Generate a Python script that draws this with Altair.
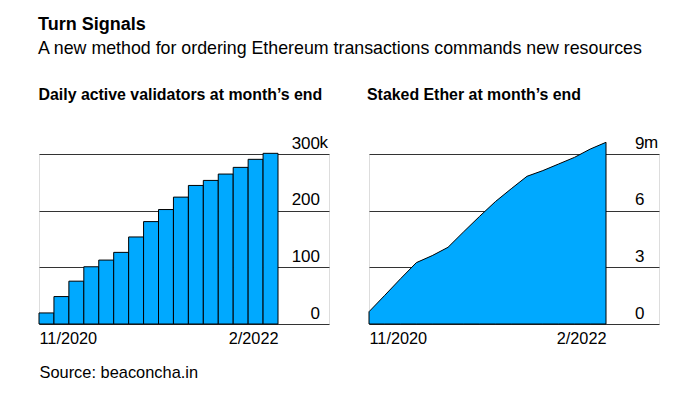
import altair as alt
import pandas as pd

# ---- data ----
months = ["2020-11", "2020-12", "2021-01", "2021-02", "2021-03", "2021-04",
          "2021-05", "2021-06", "2021-07", "2021-08", "2021-09", "2021-10",
          "2021-11", "2021-12", "2022-01", "2022-02"]
validators_k = [19.5, 48.4, 75.6, 101.0, 112.8, 126.4, 153.6, 180.7,
                202.0, 223.9, 244.5, 253.4, 264.6, 276.4, 290.6, 301.2]
staked_m = [0.65, 1.52, 2.40, 3.25, 3.62, 4.06, 4.89, 5.70,
            6.48, 7.16, 7.82, 8.12, 8.47, 8.82, 9.26, 9.62]
end_labels = ["11/2020", "2/2022"]
val_ticks = [0, 100, 200, 300]
stake_ticks = [0, 3, 6, 9]

FONT = "Liberation Sans, Arial, sans-serif"
BLUE = "#00A9FF"
GRID = "#333333"
W, H = 290, 170
LABEL_SIZE = 17

n = len(months)
df_v = pd.DataFrame({"month": months, "start": list(range(n)),
                     "end": [i + 1 for i in range(n)], "value": validators_k})
df_s = pd.DataFrame({"month": months, "idx": list(range(n)), "value": staked_m})

# extra room on the right of each plot for the inside axis labels
xmax_l = n * W / 239.0
xmax_r = (n - 1) * W / 237.0


def y_axis(pad, ticks):
    return alt.Axis(orient="right", values=ticks,
                    grid=True, gridColor=GRID, gridWidth=1, gridOpacity=1,
                    domain=False, ticks=False, tickSize=0,
                    labelPadding=-pad, labelAlign="right", labelBaseline="alphabetic",
                    labelOffset=-6, labelFontSize=LABEL_SIZE, labelFont=FONT,
                    labelColor="black", title=None)


def x_axis(last, title=None):
    kw = dict(values=[0, last], grid=False, domain=False, ticks=False, tickSize=0,
              labelExpr=f"datum.value == 0 ? '{end_labels[0]}' : '{end_labels[1]}'",
              labelAlign=alt.expr("datum.value == 0 ? 'left' : 'right'"),
              labelPadding=6, labelFontSize=16.3, labelFont=FONT, labelColor="black")
    if title:
        kw.update(title=title, titleAnchor="start", titleAlign="left",
                  titleFontSize=16.4, titleFontWeight="normal", titleFont=FONT,
                  titleColor="black", titlePadding=18)
    else:
        kw.update(title=None)
    return alt.Axis(**kw)


bars = alt.Chart(df_v).mark_rect(color=BLUE, stroke="black", strokeWidth=1).encode(
    x=alt.X("start:Q", scale=alt.Scale(domain=[0, xmax_l], nice=False, zero=False),
            axis=x_axis(n, "Source: beaconcha.in")),
    x2="end:Q",
    y=alt.Y("value:Q", scale=alt.Scale(domain=[0, 300], nice=False),
            axis=y_axis(9.5, val_ticks)),
    y2=alt.datum(0),
)
k_df = pd.DataFrame({"x": [xmax_l], "y": [val_ticks[-1]], "t": ["k"]})
k_text = alt.Chart(k_df).mark_text(align="left", baseline="alphabetic", dx=-9.5, dy=-6,
                                    fontSize=LABEL_SIZE, font=FONT, color="black").encode(
    x="x:Q", y="y:Q", text="t:N")

left = alt.layer(bars, k_text).properties(
    width=W, height=H,
    title=alt.TitleParams("Daily active validators at month’s end", anchor="start",
                          fontSize=15.9, fontWeight="bold", font=FONT, color="black",
                          offset=31))

area = alt.Chart(df_s).mark_area(color=BLUE, stroke="black", strokeWidth=1,
                                 fillOpacity=1).encode(
    x=alt.X("idx:Q", scale=alt.Scale(domain=[0, xmax_r], nice=False, zero=False),
            axis=x_axis(n - 1)),
    y=alt.Y("value:Q", scale=alt.Scale(domain=[0, 9], nice=False),
            axis=y_axis(15, stake_ticks)),
)
m_df = pd.DataFrame({"x": [xmax_r], "y": [stake_ticks[-1]], "t": ["m"]})
m_text = alt.Chart(m_df).mark_text(align="left", baseline="alphabetic", dx=-15, dy=-6,
                                    fontSize=LABEL_SIZE, font=FONT, color="black").encode(
    x="x:Q", y="y:Q", text="t:N")

right = alt.layer(area, m_text).properties(
    width=W, height=H,
    title=alt.TitleParams("Staked Ether at month’s end", anchor="start",
                          fontSize=15.9, fontWeight="bold", font=FONT, color="black",
                          offset=31))

chart = alt.hconcat(left, right, spacing=36).properties(
    title=alt.TitleParams("Turn Signals",
                          subtitle="A new method for ordering Ethereum transactions commands new resources",
                          anchor="start", font=FONT, fontSize=18, fontWeight="bold",
                          color="black", subtitleFont=FONT, subtitleFontSize=17.8,
                          subtitleColor="black", subtitlePadding=6, offset=29),
    padding={"left": 30, "top": 7, "right": 5, "bottom": 5},
).configure_view(stroke=None).configure(background="white")

chart.save("out.html", embed_options={"renderer": "svg", "actions": False})
